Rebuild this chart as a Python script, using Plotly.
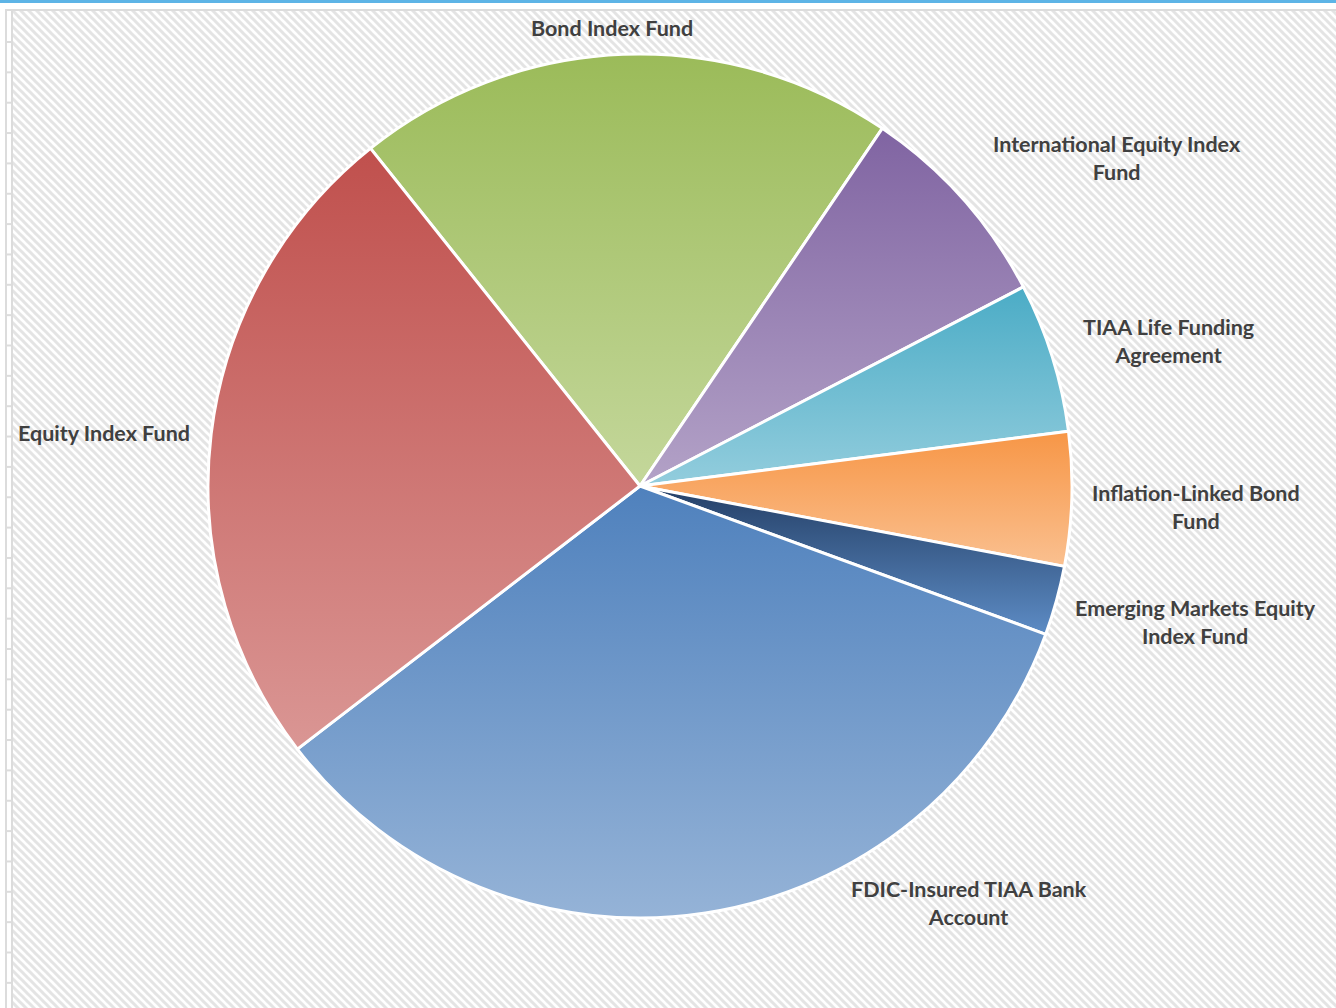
import base64
import json
import plotly.graph_objects as go

# ---------------- data ----------------
labels = [
    "Bond Index Fund",
    "International Equity Index Fund",
    "TIAA Life Funding Agreement",
    "Inflation-Linked Bond Fund",
    "Emerging Markets Equity Index Fund",
    "FDIC-Insured TIAA Bank Account",
    "Equity Index Fund",
]
values = [20.2, 7.9, 5.6, 5.0, 2.6, 34.0, 24.7]

# ---------------- style ----------------
W, H = 1336, 1008
label_text = [
    "Bond Index Fund",
    "International Equity Index<br>Fund",
    "TIAA Life Funding<br>Agreement",
    "Inflation-Linked Bond<br>Fund",
    "Emerging Markets Equity<br>Index Fund",
    "FDIC-Insured TIAA Bank<br>Account",
    "Equity Index Fund",
]
label_px = [(612, 28), (1117, 158), (1168, 341), (1196, 507),
            (1195, 622), (969, 903), (104, 433)]
grad_top = ["#9BBB59", "#8064A2", "#4BACC6", "#F79646", "#243F66", "#4F81BD", "#C0504D"]
grad_bot = ["#C4D79B", "#B3A2C7", "#93CDDD", "#FAC090", "#5D8CC5", "#95B3D7", "#DA9694"]
mid_cols = ["#AFC97A", "#9A84B5", "#6FBDD2", "#F9AB6B", "#3F6596", "#729AC9", "#CD7370"]

cx, cy, r = 640, 486, 432


def px_x(x):
    return x / W


def px_y(y):
    return 1 - y / H


fig = go.Figure()
fig.add_trace(go.Pie(
    labels=labels,
    values=values,
    sort=False,
    direction="clockwise",
    rotation=-38.6,
    textinfo="none",
    hoverinfo="label+percent",
    marker=dict(colors=mid_cols, line=dict(color="white", width=3)),
    domain=dict(x=[px_x(cx - r), px_x(cx + r)], y=[px_y(cy + r), px_y(cy - r)]),
    showlegend=False,
))

annotations = []
for t, (x, y) in zip(label_text, label_px):
    annotations.append(dict(
        text=t, x=px_x(x), y=px_y(y), xref="paper", yref="paper",
        showarrow=False, xanchor="center", yanchor="middle", align="center",
        font=dict(family="Lato", size=21.5, color="#404040", weight="bold"),
    ))

# hatched background
svg = (
    "<svg xmlns='http://www.w3.org/2000/svg' width='%d' height='%d'>"
    "<defs><pattern id='p' width='8' height='8' patternUnits='userSpaceOnUse'>"
    "<rect width='8' height='8' fill='white'/>"
    "<path d='M-2,-2 L10,10 M-2,6 L2,10 M6,-2 L10,2' stroke='#E4E4E4' stroke-width='3'/>"
    "</pattern></defs><rect width='100%%' height='100%%' fill='url(#p)'/></svg>"
) % (W - 13, H - 11)
src = "data:image/svg+xml;base64," + base64.b64encode(svg.encode()).decode()

shapes = [
    dict(type="rect", xref="paper", yref="paper", x0=0, x1=1, y0=px_y(3), y1=1,
         fillcolor="#5DB4E6", line=dict(width=0)),
    dict(type="line", xref="paper", yref="paper", x0=px_x(5), x1=1, y0=px_y(10), y1=px_y(10),
         line=dict(color="#DCDCDC", width=2)),
    dict(type="line", xref="paper", yref="paper", x0=px_x(6), x1=px_x(6), y0=0, y1=px_y(10),
         line=dict(color="#DCDCDC", width=2)),
    dict(type="line", xref="paper", yref="paper", x0=px_x(12), x1=px_x(12), y0=0, y1=px_y(10),
         line=dict(color="#DCDCDC", width=2)),
]
ty = 42.0
while ty < H:
    shapes.append(dict(type="line", xref="paper", yref="paper", x0=px_x(6), x1=px_x(12),
                       y0=px_y(ty), y1=px_y(ty), line=dict(color="#DCDCDC", width=2)))
    ty += 30.35

fig.update_layout(
    width=W, height=H,
    margin=dict(l=0, r=0, t=0, b=0),
    paper_bgcolor="white",
    annotations=annotations,
    shapes=shapes,
    images=[dict(source=src, xref="paper", yref="paper", x=px_x(13), y=px_y(11),
                 sizex=(W - 13) / W, sizey=(H - 11) / H, sizing="stretch",
                 xanchor="left", yanchor="top", layer="below")],
)

js = """
var gd = document.getElementById('{plot_id}');
var tops = %s, bots = %s;
function applyGrad(){
  var svg = gd.querySelector('svg.main-svg');
  if(!svg) return;
  var ns = 'http://www.w3.org/2000/svg';
  var defs = svg.querySelector('defs');
  if(!defs){ defs = document.createElementNS(ns,'defs'); svg.insertBefore(defs, svg.firstChild); }
  var paths = gd.querySelectorAll('g.slice path.surface');
  paths.forEach(function(p, i){
    var id = 'slicegrad' + i;
    if(!document.getElementById(id)){
      var g = document.createElementNS(ns,'linearGradient');
      g.setAttribute('id', id);
      g.setAttribute('x1','0'); g.setAttribute('y1','0');
      g.setAttribute('x2','0'); g.setAttribute('y2','1');
      var s1 = document.createElementNS(ns,'stop');
      s1.setAttribute('offset','0'); s1.setAttribute('stop-color', tops[i]);
      var s2 = document.createElementNS(ns,'stop');
      s2.setAttribute('offset','1'); s2.setAttribute('stop-color', bots[i]);
      g.appendChild(s1); g.appendChild(s2);
      defs.appendChild(g);
    }
    p.style.fill = 'url(#' + id + ')';
  });
}
applyGrad();
gd.on && gd.on('plotly_afterplot', applyGrad);
""" % (json.dumps(grad_top), json.dumps(grad_bot))

fig.write_html("out.html", post_script=js)
